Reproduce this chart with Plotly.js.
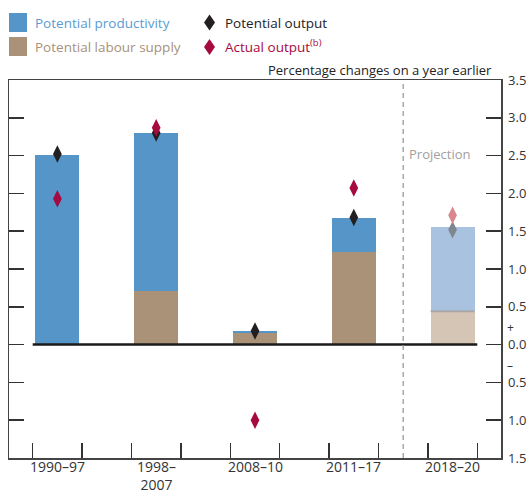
<!DOCTYPE html>
<html>
<head>
<meta charset="utf-8">
<script src="https://cdn.plot.ly/plotly-3.0.1.min.js"></script>
<style>html,body{margin:0;padding:0;background:#fff;}#chart{width:530px;height:495px;}</style>
</head>
<body>
<div id="chart"></div>
<script>
// ---- data ----
const categories = ['1990–97', '1998–<br>2007', '2008–10', '2011–17', '2018–20'];
const labourSupply = [0.00, 0.71, 0.16, 1.23, 0.44];
const productivity = [2.51, 2.09, 0.02, 0.45, 1.11];
const potentialOutput = [2.52, 2.80, 0.18, 1.68, 1.52];
const actualOutput = [1.93, 2.87, -1.00, 2.07, 1.71];
const yTickVals = [-1.5, -1.0, -0.5, 0, 0.5, 1.0, 1.5, 2.0, 2.5, 3.0, 3.5];
const yTickText = ['1.5', '1.0', '0.5', '0.0', '0.5', '1.0', '1.5', '2.0', '2.5', '3.0', '3.5'];
const projectionIndex = 4;

// ---- styling ----
const FONT = 'Open Sans, Noto Sans, sans-serif';
const xs = categories.map((_, i) => i);
const barW = 0.445;
const blue = '#5695c8', blueLight = '#a9c2e0';
const brown = '#aa9279', brownLight = '#d5c5b4';
const blk = '#231f20', blkLight = '#7f8690';
const red = '#a50a40', redLight = '#d9878f';
const pick = (c, l) => xs.map(i => i === projectionIndex ? l : c);
const xTickVals = [];
xs.forEach(i => { xTickVals.push(i - 0.25, i + 0.25); });

const traces = [
  { type: 'bar', x: xs, y: labourSupply, width: barW, name: 'Potential labour supply',
    marker: { color: pick(brown, brownLight), line: { width: 0 } }, hoverinfo: 'y' },
  { type: 'bar', x: xs, y: productivity, width: barW, name: 'Potential productivity',
    marker: { color: pick(blue, blueLight), line: { width: 0 } }, hoverinfo: 'y' },
  { type: 'scatter', mode: 'lines', x: [projectionIndex - barW / 2, projectionIndex + barW / 2],
    y: [labourSupply[projectionIndex], labourSupply[projectionIndex]],
    line: { color: '#a8a8a8', width: 2 }, hoverinfo: 'skip' },
  { type: 'scatter', mode: 'markers', x: xs, y: potentialOutput, name: 'Potential output',
    marker: { symbol: 'diamond-tall', size: 12.5, color: pick(blk, blkLight), line: { width: 0 } } },
  { type: 'scatter', mode: 'markers', x: xs, y: actualOutput, name: 'Actual output',
    marker: { symbol: 'diamond-tall', size: 12.5, color: pick(red, redLight), line: { width: 0 } } }
];

const L = 9, T = 80, W = 492, H = 378;
const px = v => (v - L) / W;
const py = v => (T + H - v) / H;

const annotations = [];
categories.forEach((c, i) => annotations.push({
  x: i, xref: 'x', y: 0.006, yref: 'paper', yanchor: 'top', xanchor: 'center',
  text: c, showarrow: false, borderpad: 0, font: { family: FONT, size: 14, color: '#333' }
}));
const legendItems = [
  { t: 'Potential productivity', c: '#5b9bd2', x: 33, y: 22.7 },
  { t: 'Potential labour supply', c: '#a8917a', x: 33, y: 47 },
  { t: 'Potential output', c: '#222', x: 223, y: 22.5 },
  { t: 'Actual output<sup>(b)</sup>', c: '#a50a40', x: 223, y: 45.5 }
];
legendItems.forEach(d => annotations.push({
  x: px(d.x), y: py(d.y), xref: 'paper', yref: 'paper', xanchor: 'left', yanchor: 'middle',
  text: d.t, showarrow: false, font: { family: FONT, size: 13.5, color: d.c }
}));
annotations.push({
  x: px(494), y: py(69.5), xref: 'paper', yref: 'paper', xanchor: 'right', yanchor: 'middle',
  text: 'Percentage changes on a year earlier', showarrow: false, font: { family: FONT, size: 13, color: '#222' }
});
annotations.push({
  x: 3.87, y: 2.52, xref: 'x', yref: 'y', xanchor: 'center', yanchor: 'middle',
  text: 'Projection', showarrow: false, font: { family: FONT, size: 13, color: '#a0a0a0' }
});
annotations.push({ x: px(506), y: 0.22, xref: 'paper', yref: 'y', xanchor: 'left', yanchor: 'middle',
  text: '+', showarrow: false, borderpad: 0, font: { family: FONT, size: 12, color: '#333' } });
annotations.push({ x: px(506), y: -0.28, xref: 'paper', yref: 'y', xanchor: 'left', yanchor: 'middle',
  text: '–', showarrow: false, borderpad: 0, font: { family: FONT, size: 12, color: '#333' } });

const shapes = [
  // zero line
  { type: 'line', xref: 'x', yref: 'y', x0: xTickVals[0], x1: xTickVals[xTickVals.length - 1], y0: 0, y1: 0,
    line: { color: '#1a1a1a', width: 2.5 }, layer: 'above' },
  // projection divider
  { type: 'line', xref: 'x', yref: 'paper', x0: projectionIndex - 0.5, x1: projectionIndex - 0.5, y0: 0, y1: 1,
    line: { color: '#9a9a9a', width: 1.3, dash: '5px,4px' } },
  // legend swatches
  { type: 'rect', xref: 'paper', yref: 'paper', xsizemode: 'pixel', ysizemode: 'pixel',
    xanchor: px(9), yanchor: py(22.5), x0: 0, x1: 18, y0: -9.5, y1: 9.5, fillcolor: blue, line: { width: 0 } },
  { type: 'rect', xref: 'paper', yref: 'paper', xsizemode: 'pixel', ysizemode: 'pixel',
    xanchor: px(9), yanchor: py(46.5), x0: 0, x1: 18, y0: -9.5, y1: 9.5, fillcolor: brown, line: { width: 0 } },
  { type: 'path', xref: 'paper', yref: 'paper', xsizemode: 'pixel', ysizemode: 'pixel',
    xanchor: px(209.5), yanchor: py(22.5), path: 'M0,8 L5.5,0 L0,-8 L-5.5,0 Z', fillcolor: blk, line: { width: 0 } },
  { type: 'path', xref: 'paper', yref: 'paper', xsizemode: 'pixel', ysizemode: 'pixel',
    xanchor: px(209.5), yanchor: py(47), path: 'M0,8 L5.5,0 L0,-8 L-5.5,0 Z', fillcolor: red, line: { width: 0 } }
];

const layout = {
  width: 530, height: 495,
  margin: { l: L, r: 530 - L - W, t: T, b: 495 - T - H, pad: 0 },
  paper_bgcolor: '#fff', plot_bgcolor: '#fff',
  barmode: 'relative', bargap: 0,
  showlegend: false,
  font: { family: FONT, size: 13, color: '#333' },
  xaxis: {
    range: [-0.49, 4.49], fixedrange: true, showgrid: false, zeroline: false,
    tickmode: 'array', tickvals: xTickVals, showticklabels: false,
    ticks: 'inside', ticklen: 15, tickwidth: 1.5, tickcolor: '#333',
    showline: true, linecolor: '#444', linewidth: 1.5, mirror: true
  },
  yaxis: {
    range: [-1.5, 3.5], fixedrange: true, showgrid: false, zeroline: false, side: 'right',
    tickmode: 'array', tickvals: yTickVals, ticktext: yTickText,
    ticks: 'inside', ticklen: 15, tickwidth: 1.5, tickcolor: '#333',
    showline: true, linecolor: '#444', linewidth: 1.5, mirror: 'ticks',
    ticklabelstandoff: 3,
    tickfont: { family: FONT, size: 13, color: '#333' }
  },
  annotations: annotations,
  shapes: shapes
};

Plotly.newPlot('chart', traces, layout, { staticPlot: true, displayModeBar: false });
</script>
</body>
</html>
